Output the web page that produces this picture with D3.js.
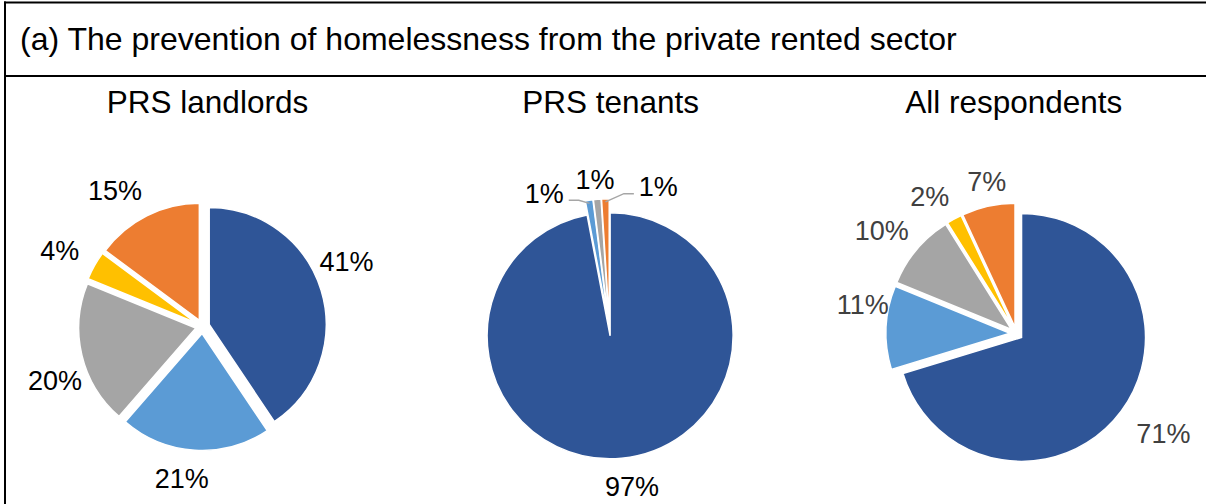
<!DOCTYPE html>
<html>
<head>
<meta charset="utf-8">
<script src="https://cdn.jsdelivr.net/npm/d3@7"></script>
<style>
  html, body { margin: 0; padding: 0; background: #fff; }
  svg { display: block; }
</style>
</head>
<body>
<svg id="chart" width="1206" height="504"></svg>
<script>
// ---- data ----
const heading = "(a) The prevention of homelessness from the private rented sector";
const panelTitles = ["PRS landlords", "PRS tenants", "All respondents"];
const sliceKeys = ["s1", "s2", "s3", "s4", "s5"];
const landlordValues = [41, 21, 20, 4, 15];
const tenantValues = [97, 1, 1, 0, 1];
const allValues = [71, 11, 10, 2, 7];

// ---- styling ----
const sliceColors = ["#2F5597", "#5B9BD5", "#A5A5A5", "#FFC000", "#ED7D31"];
const FONT = "'Liberation Sans', Arial, Helvetica, sans-serif";
const W = 1206, H = 504;

// Per-panel geometry and label placement (angle nudge in degrees, radial distance)
const panels = [
  { title: panelTitles[0], values: landlordValues, cy: 326.5, r: 117, explode: 7,
    labelColor: "#000",
    labelPlace: [[-7.3, 158], [4.2, 153], [-6.6, 157], [-1.2, 162], [-6.0, 162]],
    leaders: [] },
  { title: panelTitles[1], values: tenantValues, cy: 328.8, r: 123, explode: 7,
    labelColor: "#000",
    labelPlace: [[-2.7, 159.5], [-16.7, 150.4], [-0.1, 150.2], [0, 0], [20.8, 150.3]],
    leaders: [1, 4] },
  { title: panelTitles[2], values: allValues, cy: 333.6, r: 124, explode: 6.4,
    labelColor: "#404040",
    labelPlace: [[-2.4, 177.6], [8.2, 156.5], [-2.5, 170], [-3.8, 162], [1.4, 154.8]],
    leaders: [] }
];

const svg = d3.select("#chart");
svg.append("rect").attr("width", W).attr("height", H).attr("fill", "#fff");

// frame: top rule, heading separator, left rule
const frame = svg.append("g").attr("stroke", "#000").attr("stroke-width", 2);
frame.append("line").attr("x1", 4).attr("x2", W).attr("y1", 2.5).attr("y2", 2.5);
frame.append("line").attr("x1", 4).attr("x2", W).attr("y1", 76).attr("y2", 76);
frame.append("line").attr("x1", 5).attr("x2", 5).attr("y1", 1.5).attr("y2", H);

svg.append("text")
  .attr("x", 20).attr("y", 50)
  .attr("font-family", FONT).attr("font-size", 32).attr("fill", "#000")
  .text(heading);

// horizontal placement of the three pies and their titles
const pieX = d3.scalePoint().domain(panelTitles).range([202.5, 1016.4]);
const titleX = d3.scalePoint().domain(panelTitles).range([207.5, 1013.8]);

const pie = d3.pie().sort(null).value(d => d);
const arc = d3.arc().innerRadius(0);
const deg = Math.PI / 180;

panels.forEach(p => {
  svg.append("text")
    .attr("x", titleX(p.title)).attr("y", 113.3)
    .attr("text-anchor", "middle")
    .attr("font-family", FONT).attr("font-size", 31.5).attr("fill", "#000")
    .text(p.title);

  const g = svg.append("g")
    .attr("transform", `translate(${pieX(p.title)},${p.cy})`);

  const arcs = pie(p.values);
  arc.outerRadius(p.r);

  // slices, each pushed out along its own bisector
  g.selectAll("path.slice")
    .data(arcs.filter(a => a.value > 0))
    .join("path")
    .attr("class", "slice")
    .attr("d", arc)
    .attr("transform", a => {
      const m = (a.startAngle + a.endAngle) / 2;
      return `translate(${Math.sin(m) * p.explode},${-Math.cos(m) * p.explode})`;
    })
    .attr("fill", a => sliceColors[a.index])
    .attr("stroke", "#fff")
    .attr("stroke-width", 1.5);

  // percentage labels
  arcs.forEach(a => {
    if (a.value <= 0) return;
    const m = (a.startAngle + a.endAngle) / 2;
    const [dA, dist] = p.labelPlace[a.index];
    const ang = m + dA * deg;
    const lx = Math.sin(ang) * dist, ly = -Math.cos(ang) * dist;
    const t = g.append("text")
      .attr("x", lx).attr("y", ly).attr("dy", "0.36em")
      .attr("text-anchor", "middle")
      .attr("font-family", FONT).attr("font-size", 27).attr("fill", p.labelColor)
      .text(`${a.value}%`);

    if (p.leaders.includes(a.index)) {
      const half = t.node().getComputedTextLength() / 2;
      const side = lx < Math.sin(m) * p.r ? 1 : -1; // label left of slice -> line runs right
      const sr = p.r + p.explode - 3;
      const sx = Math.sin(m) * sr, sy = -Math.cos(m) * sr;
      const ex = lx + side * (half + 5), ey = ly + 7;
      const bx = ex + side * 10;
      g.append("polyline")
        .attr("points", [[ex, ey], [bx, ey], [sx, sy]].map(d => d.join(",")).join(" "))
        .attr("fill", "none")
        .attr("stroke", "#A6A6A6")
        .attr("stroke-width", 1.5);
    }
  });
});
</script>
</body>
</html>
